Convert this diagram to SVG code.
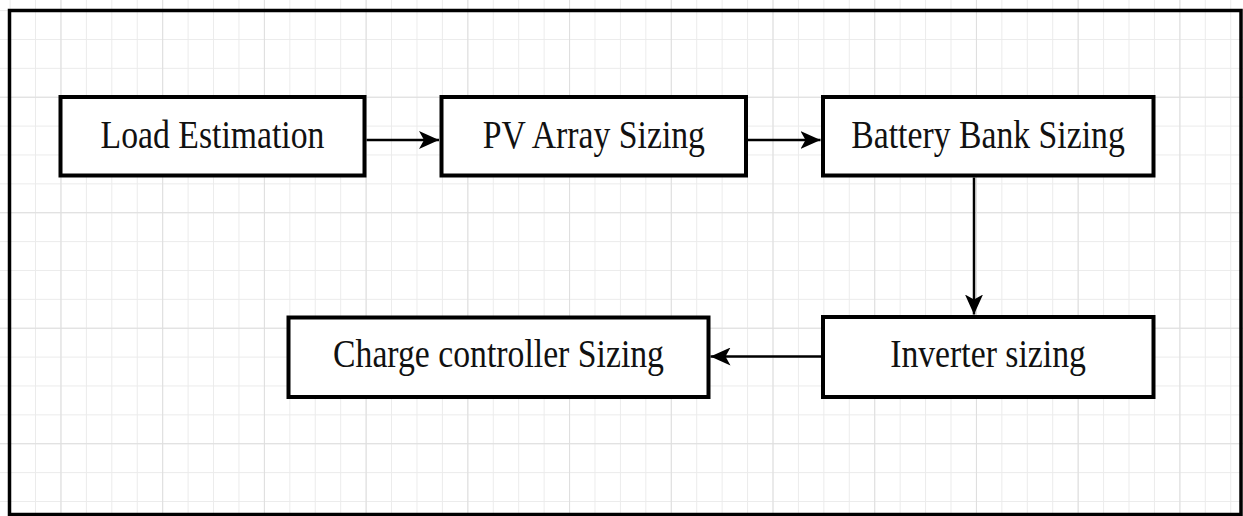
<svg xmlns="http://www.w3.org/2000/svg" width="1243" height="516" viewBox="0 0 1243 516">
  <style>
    .box { fill: #ffffff; stroke: #000000; stroke-width: 4; }
    .lbl { font-family: "Liberation Serif", "Times New Roman", serif; font-size: 39px; fill: #111111; text-anchor: middle; }
    .edge { fill: none; stroke: #000000; stroke-width: 2.5; marker-end: url(#arrow); }
  </style>
  <defs>
    <pattern id="minor" patternUnits="userSpaceOnUse" x="9.6" y="10.1" width="25.43" height="28.875">
      <path d="M0.5,0 V28.875 M0,0.5 H25.43" fill="none" stroke="#ebebeb" stroke-width="1"/>
    </pattern>
    <pattern id="major" patternUnits="userSpaceOnUse" x="60.46" y="96.73" width="101.72" height="115.5">
      <path d="M0.5,0 V115.5 M0,0.5 H101.72" fill="none" stroke="#dedede" stroke-width="1"/>
    </pattern>
    <marker id="arrow" markerUnits="userSpaceOnUse" viewBox="0 0 20 18" refX="20" refY="9" markerWidth="20" markerHeight="18" orient="auto">
      <path d="M0,0 L20,9 L0,18 L5,9 Z" fill="#000000"/>
    </marker>
  </defs>
  <rect x="0" y="0" width="1243" height="516" fill="#ffffff"/>
  <rect x="0" y="0" width="1243" height="516" fill="url(#minor)"/>
  <rect x="0" y="0" width="1243" height="516" fill="url(#major)"/>
  <rect x="9.5" y="10.5" width="1231.5" height="504" fill="none" stroke="#000000" stroke-width="3.5"/>

  <g id="connectors">
    <path class="edge" d="M366.5,140 L439,140"/>
    <path class="edge" d="M748,140 L820.5,140"/>
    <path class="edge" d="M974,177.5 L974,314.5"/>
    <path class="edge" d="M821,356.5 L710.5,356.5"/>
  </g>

  <g id="load-estimation">
    <rect class="box" x="60.5" y="97" width="304" height="78.5"/>
    <text class="lbl" transform="translate(212.5,147.7) scale(0.865,1)">Load Estimation</text>
  </g>
  <g id="pv-array-sizing">
    <rect class="box" x="441.5" y="97" width="304.5" height="78.5"/>
    <text class="lbl" transform="translate(593.8,147.7) scale(0.865,1)">PV Array Sizing</text>
  </g>
  <g id="battery-bank-sizing">
    <rect class="box" x="823" y="97" width="330.5" height="78.5"/>
    <text class="lbl" transform="translate(988,147.7) scale(0.865,1)">Battery Bank Sizing</text>
  </g>
  <g id="inverter-sizing">
    <rect class="box" x="823" y="317" width="330.5" height="80"/>
    <text class="lbl" transform="translate(988,366.7) scale(0.865,1)">Inverter sizing</text>
  </g>
  <g id="charge-controller-sizing">
    <rect class="box" x="288.5" y="317.5" width="420" height="79.5"/>
    <text class="lbl" transform="translate(498.5,366.7) scale(0.865,1)">Charge controller Sizing</text>
  </g>
</svg>
